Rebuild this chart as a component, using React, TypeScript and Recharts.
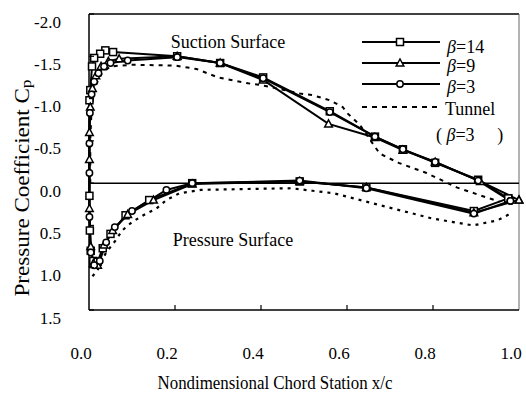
import { LineChart, Line, XAxis, YAxis, ReferenceLine, Label } from "recharts";

// chord stations (x/c) and pressure coefficients
// upper (suction) surface listed leading edge -> trailing edge, lower likewise
const B14_UPPER = [
  [0.001, -0.98], [0.003, -1.1], [0.007, -1.38], [0.012, -1.48], [0.026, -1.53],
  [0.038, -1.57], [0.056, -1.55], [0.205, -1.5], [0.305, -1.42], [0.405, -1.25],
  [0.56, -0.85], [0.665, -0.55], [0.73, -0.4], [0.805, -0.24], [0.905, -0.04], [0.975, 0.18],
];
const B14_LOWER = [
  [0.001, 0.15], [0.002, 0.56], [0.004, 0.8], [0.01, 0.92], [0.02, 0.93], [0.032, 0.77],
  [0.05, 0.6], [0.085, 0.38], [0.14, 0.2], [0.24, 0.0], [0.49, -0.02], [0.645, 0.05],
  [0.895, 0.33], [0.975, 0.18],
];
const B9_UPPER = [
  [0.001, -0.28], [0.001, -0.6], [0.003, -0.9], [0.008, -1.12], [0.016, -1.27],
  [0.028, -1.38], [0.045, -1.44], [0.07, -1.47], [0.205, -1.5], [0.305, -1.42],
  [0.405, -1.22], [0.557, -0.7], [0.665, -0.54], [0.73, -0.39], [0.805, -0.25],
  [0.91, -0.02], [1.0, 0.2],
];
const B9_LOWER = [
  [0.001, 0.3], [0.004, 0.75], [0.01, 0.95], [0.02, 0.97], [0.035, 0.73], [0.055, 0.56],
  [0.09, 0.37], [0.15, 0.2], [0.24, 0.01], [0.49, -0.02], [0.645, 0.05], [0.895, 0.35], [1.0, 0.2],
];
const B3_UPPER = [
  [0.001, -0.12], [0.001, -0.47], [0.002, -0.83], [0.006, -1.05], [0.012, -1.2],
  [0.022, -1.3], [0.035, -1.38], [0.05, -1.42], [0.09, -1.45], [0.205, -1.49],
  [0.305, -1.42], [0.405, -1.24], [0.56, -0.84], [0.665, -0.55], [0.73, -0.4],
  [0.805, -0.25], [0.905, -0.03], [0.98, 0.21],
];
const B3_LOWER = [
  [0.001, 0.4], [0.004, 0.82], [0.012, 0.97], [0.025, 0.92], [0.04, 0.7], [0.06, 0.52],
  [0.1, 0.33], [0.18, 0.08], [0.24, 0.0], [0.49, -0.03], [0.645, 0.06], [0.895, 0.36], [0.98, 0.21],
];
const TUNNEL_UPPER = [
  [0.003, 0.0], [0.003, -0.5], [0.006, -0.9], [0.015, -1.15], [0.03, -1.3], [0.05, -1.38],
  [0.1, -1.4], [0.2, -1.39], [0.25, -1.35], [0.3, -1.25], [0.37, -1.18], [0.4, -1.16],
  [0.49, -1.06], [0.52, -1.04], [0.56, -0.98], [0.59, -0.9], [0.6, -0.83], [0.63, -0.69],
  [0.65, -0.54], [0.676, -0.35], [0.72, -0.24], [0.785, -0.12], [0.855, 0.05],
  [0.925, 0.17], [0.955, 0.22],
];
const TUNNEL_LOWER = [
  [0.008, 1.1], [0.02, 1.03], [0.03, 0.91], [0.04, 0.82], [0.063, 0.67], [0.077, 0.56],
  [0.1, 0.46], [0.133, 0.36], [0.157, 0.3], [0.18, 0.2], [0.21, 0.12], [0.26, 0.08],
  [0.36, 0.07], [0.47, 0.06], [0.52, 0.09], [0.57, 0.12], [0.676, 0.26], [0.8, 0.42],
  [0.893, 0.5], [0.95, 0.44], [0.98, 0.36],
];

const X_TICKS = [0, 0.2, 0.4, 0.6, 0.8, 1.0];
const Y_TICKS = [-2, -1.5, -1, -0.5, 0, 0.5, 1, 1.5];

const FONT = "'Liberation Serif', 'Times New Roman', serif";
const PLOT_L = 89;
const PLOT_B = 310;

type Pt = number[];
const loop = (upper: Pt[], lower: Pt[]) =>
  [...upper].reverse().concat(lower).map(([x, cp]) => ({ x, cp }));
const rows = (pts: Pt[]) => pts.map(([x, cp]) => ({ x, cp }));

const SERIES = [
  { key: "b14", shape: "square", data: loop(B14_UPPER, B14_LOWER) },
  { key: "b9", shape: "triangle", data: loop(B9_UPPER, B9_LOWER) },
  { key: "b3", shape: "circle", data: loop(B3_UPPER, B3_LOWER) },
];

function Marker({ cx, cy, shape }: any) {
  if (cx == null || cy == null) return null;
  const st = { fill: "#fff", stroke: "#000", strokeWidth: 1.5 };
  if (shape === "square") return <rect x={cx - 3.5} y={cy - 3.5} width={7} height={7} {...st} />;
  if (shape === "triangle")
    return <polygon points={`${cx},${cy - 4} ${cx - 3.8},${cy + 3} ${cx + 3.8},${cy + 3}`} {...st} />;
  return <circle cx={cx} cy={cy} r={3.2} {...st} />;
}

function YTick({ y, payload }: any) {
  const v = payload.value;
  return (
    <g>
      <line x1={PLOT_L} x2={PLOT_L + 5} y1={y} y2={y} stroke="#000" strokeWidth={1.2} />
      <text x={61} y={y + 8} textAnchor="end" dominantBaseline="central"
        fontFamily={FONT} fontSize={17} fill="#000">
        {v.toFixed(1)}
      </text>
    </g>
  );
}

function XTick({ x, payload }: any) {
  const v = payload.value;
  return (
    <g>
      {v > 0 && v < 1 && <line x1={x} x2={x} y1={PLOT_B} y2={PLOT_B - 5} stroke="#000" strokeWidth={1.2} />}
      <text x={x - 8} y={353} textAnchor="middle" dominantBaseline="central"
        fontFamily={FONT} fontSize={17} fill="#000">
        {v.toFixed(1)}
      </text>
    </g>
  );
}

function LegendOverlay() {
  const items = [
    { shape: "square", label: "14", ly: 42, ty: 47 },
    { shape: "triangle", label: "9", ly: 63, ty: 66 },
    { shape: "circle", label: "3", ly: 84, ty: 87 },
  ];
  const txt = { fontFamily: FONT, fontSize: 18, fill: "#000" };
  return (
    <svg width={526} height={396} style={{ position: "absolute", left: 0, top: 0, pointerEvents: "none" }}>
      <text x={228} y={42} textAnchor="middle" dominantBaseline="central" {...txt}>Suction Surface</text>
      <text x={233} y={240} textAnchor="middle" dominantBaseline="central" {...txt}>Pressure Surface</text>
      {items.map((it) => (
        <g key={it.label}>
          <line x1={362} x2={440} y1={it.ly} y2={it.ly} stroke="#000" strokeWidth={2} />
          <Marker cx={400} cy={it.ly} shape={it.shape} />
          <text x={447} y={it.ty} dominantBaseline="central" {...txt}>
            <tspan fontStyle="italic">β</tspan>=
            {it.label}
          </text>
        </g>
      ))}
      <line x1={362} x2={438} y1={107} y2={107} stroke="#000" strokeWidth={2} strokeDasharray="5 5" />
      <text x={445} y={109} dominantBaseline="central" {...txt}>Tunnel</text>
      <text x={436} y={135} dominantBaseline="central" {...txt}>
        ( <tspan fontStyle="italic">β</tspan>=3{"\u2003 "})
      </text>
    </svg>
  );
}

export default function App() {
  return (
    <div style={{ position: "absolute", left: 0, top: 0, width: 526, height: 396, background: "#fff" }}>
      <LineChart width={526} height={396} margin={{ top: 14, right: 7, left: 0, bottom: 0 }}>
        <XAxis
          type="number"
          dataKey="x"
          domain={[0, 1]}
          ticks={X_TICKS}
          height={86}
          tickLine={false}
          axisLine={{ stroke: "#000", strokeWidth: 1.5 }}
          tick={<XTick />}
          allowDuplicatedCategory={false}
        >
          <Label
            content={() => (
              <text x={275} y={383} textAnchor="middle" dominantBaseline="central"
                fontFamily={FONT} fontSize={18} fill="#000" textLength={235} lengthAdjust="spacingAndGlyphs">
                Nondimensional Chord Station x/c
              </text>
            )}
          />
        </XAxis>
        <YAxis
          type="number"
          dataKey="cp"
          domain={[-2, 1.5]}
          ticks={Y_TICKS}
          reversed
          width={89}
          tickLine={false}
          axisLine={{ stroke: "#000", strokeWidth: 1.5 }}
          tick={<YTick />}
        >
          <Label
            content={() => (
              <text transform="translate(22,188) rotate(-90)" textAnchor="middle" dominantBaseline="central"
                fontFamily={FONT} fontSize={20} fill="#000" textLength={217} lengthAdjust="spacingAndGlyphs">
                Pressure Coefficient C<tspan fontSize={15} dy={4}>p</tspan>
              </text>
            )}
          />
        </YAxis>
        <ReferenceLine y={-2} stroke="#000" strokeWidth={1.5} />
        <ReferenceLine x={1} stroke="#666" strokeWidth={1} />
        <ReferenceLine y={0} stroke="#000" strokeWidth={1.5} />
        <Line
          data={rows(TUNNEL_UPPER)}
          dataKey="cp"
          stroke="#000"
          strokeWidth={2}
          strokeDasharray="4 5"
          dot={false}
          isAnimationActive={false}
        />
        <Line
          data={rows(TUNNEL_LOWER)}
          dataKey="cp"
          stroke="#000"
          strokeWidth={2.2}
          strokeDasharray="3 5"
          dot={false}
          isAnimationActive={false}
        />
        {SERIES.map((s) => (
          <Line
            key={s.key}
            data={s.data}
            dataKey="cp"
            stroke="#000"
            strokeWidth={2}
            dot={(p: any) => <Marker key={`${s.key}-${p.index}`} cx={p.cx} cy={p.cy} shape={s.shape} />}
            isAnimationActive={false}
          />
        ))}
      </LineChart>
      <LegendOverlay />
    </div>
  );
}
